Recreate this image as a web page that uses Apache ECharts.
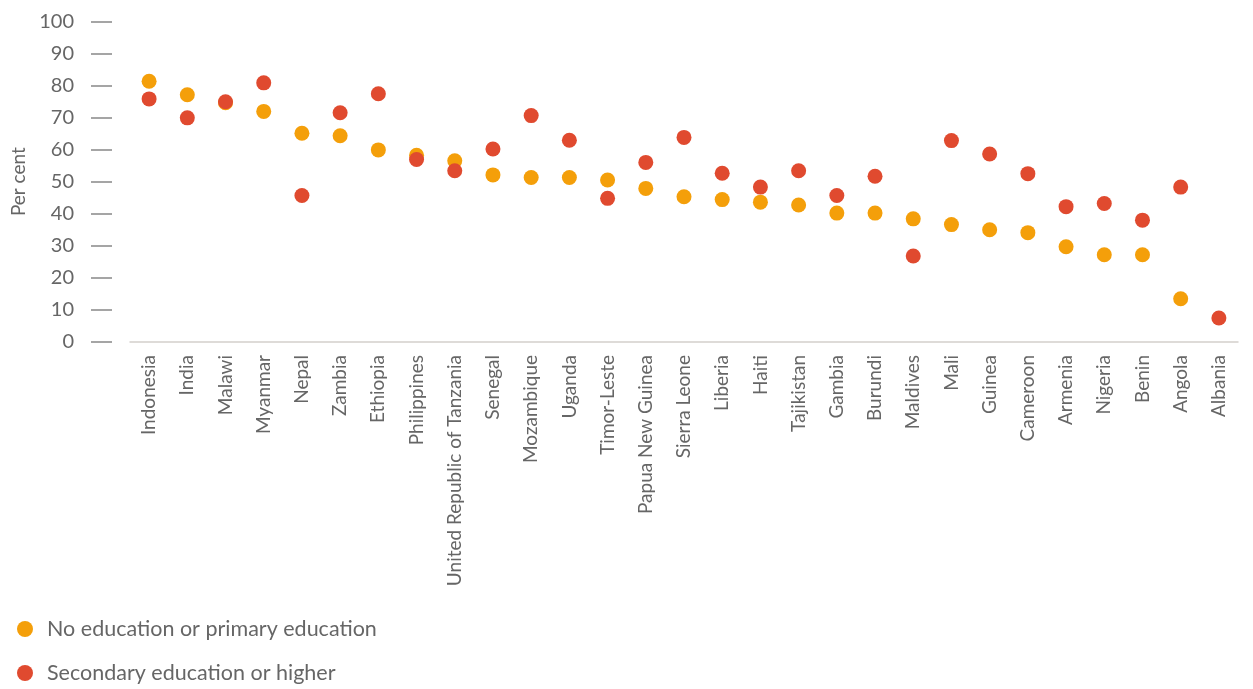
<!DOCTYPE html>
<html>
<head>
<meta charset="utf-8">
<script src="https://cdn.jsdelivr.net/npm/echarts@6/dist/echarts.min.js"></script>
<style>
html,body{margin:0;padding:0;background:#fff;}
#chart{width:1253px;height:689px;}
</style>
</head>
<body>
<div id="chart"></div>
<script>
const categories = ["Indonesia","India","Malawi","Myanmar","Nepal","Zambia","Ethiopia","Philippines","United Republic of Tanzania","Senegal","Mozambique","Uganda","Timor-Leste","Papua New Guinea","Sierra Leone","Liberia","Haiti","Tajikistan","Gambia","Burundi","Maldives","Mali","Guinea","Cameroon","Armenia","Nigeria","Benin","Angola","Albania"];
const primaryEdu = [81.3,77.1,74.6,71.9,65.1,64.3,59.9,58.2,56.5,52.1,51.3,51.3,50.5,47.9,45.3,44.4,43.6,42.7,40.2,40.2,38.4,36.6,35.0,34.1,29.7,27.2,27.2,13.5,null];
const secondaryEdu = [75.8,69.9,74.9,80.8,45.7,71.5,77.4,56.9,53.4,60.2,70.6,62.9,44.8,56.0,63.8,52.6,48.3,53.4,45.7,51.7,26.8,62.8,58.6,52.5,42.2,43.2,38.0,48.3,7.5];
const yTicks = [0,10,20,30,40,50,60,70,80,90,100];
const seriesNames = ["No education or primary education","Secondary education or higher"];

const FONT = "Lato, 'Open Sans', sans-serif";
const legendBase = {
  orient:'horizontal',left:12,itemWidth:16,itemHeight:16,icon:'circle',
  textStyle:{fontSize:21.5,color:'#666',fontFamily:FONT,padding:[0,0,0,9]}
};
const chart = echarts.init(document.getElementById('chart'));
chart.setOption({
  animation:false,
  textStyle:{fontFamily:FONT},
  grid:{left:130,right:15,top:21.3,bottom:347,containLabel:false,outerBoundsMode:'none'},
  legend:[
    Object.assign({}, legendBase, {top:613, data:[seriesNames[0]]}),
    Object.assign({}, legendBase, {top:657, data:[seriesNames[1]]})
  ],
  xAxis:{
    type:'category',data:categories,boundaryGap:true,
    axisLine:{lineStyle:{color:'#d4d0cc',width:1.5}},
    axisTick:{show:false},
    axisLabel:{rotate:90,interval:0,fontSize:19,color:'#666',margin:13,fontFamily:FONT}
  },
  yAxis:{
    type:'value',min:yTicks[0],max:yTicks[yTicks.length-1],interval:10,
    offset:18,
    name:'Per cent',nameLocation:'middle',nameRotate:90,nameGap:84,
    nameTextStyle:{fontSize:19,color:'#666',fontFamily:FONT},
    axisLine:{show:false},
    axisTick:{show:true,length:21,lineStyle:{color:'#888',width:1.5}},
    splitLine:{show:false},
    axisLabel:{fontSize:20,color:'#666',margin:38,fontFamily:FONT}
  },
  series:[
    {name:seriesNames[0],type:'scatter',symbolSize:15,itemStyle:{color:'#F49F0A',opacity:1},
     data:primaryEdu.map(v=>v===null?'-':v)},
    {name:seriesNames[1],type:'scatter',symbolSize:15,itemStyle:{color:'#E04A2F',opacity:1},
     data:secondaryEdu.map(v=>v===null?'-':v)}
  ]
});
</script>
</body>
</html>
